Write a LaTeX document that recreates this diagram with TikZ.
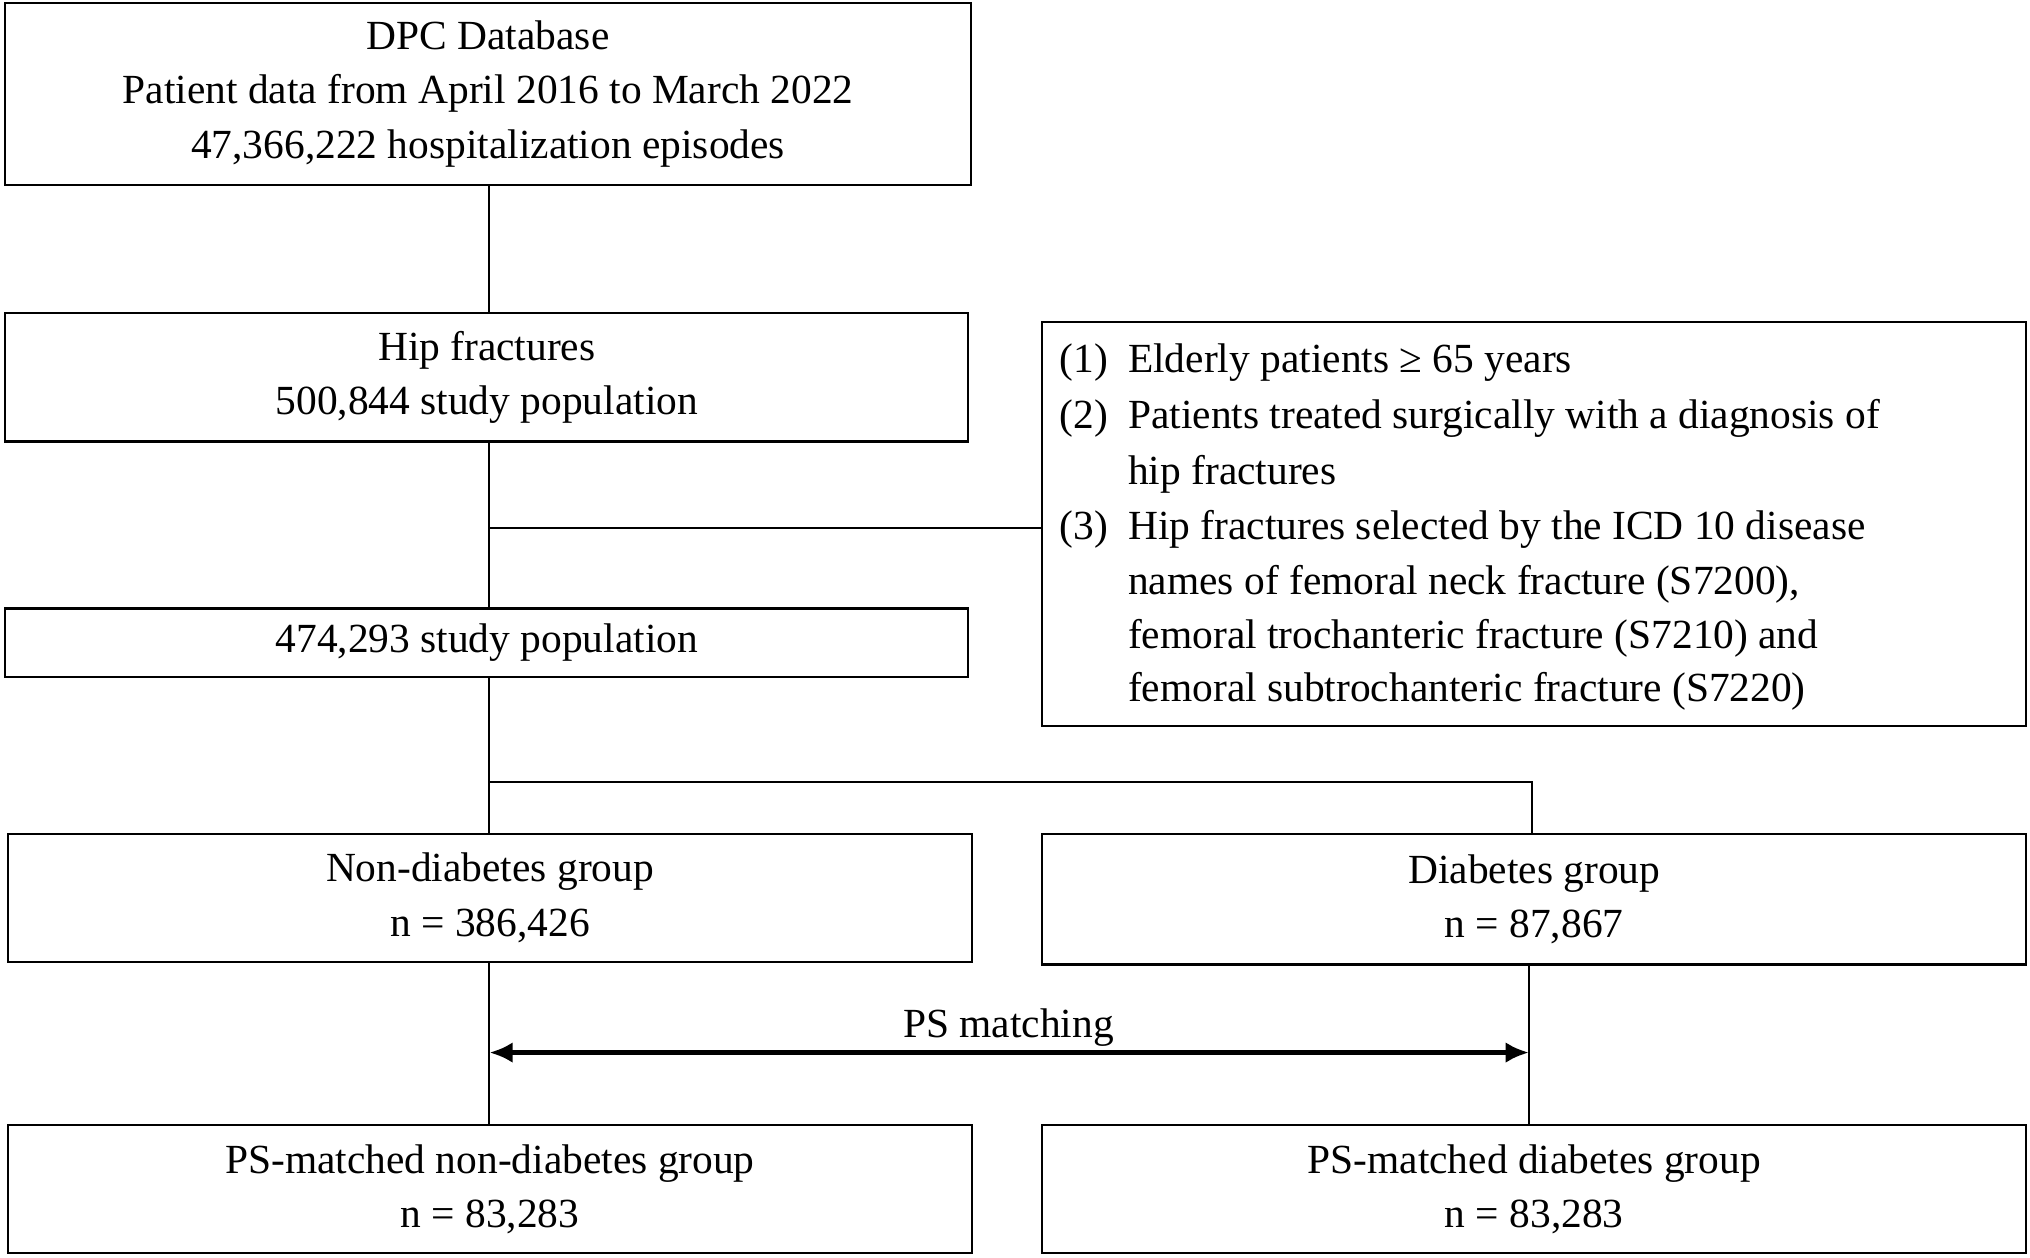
\documentclass[tikz,border=0pt]{standalone}
\usepackage{fontspec}
\setmainfont{Liberation Serif}
\usetikzlibrary{arrows.meta}
\begin{document}
\begin{tikzpicture}[x=0.5pt,y=-0.5pt,
  box/.style={draw,line width=0.8pt,inner sep=0pt,align=center,font=\fontsize{16}{21}\selectfont},
  ln/.style={line width=0.8pt},
  txt/.style={inner sep=0pt,font=\fontsize{16}{21}\selectfont,anchor=base west}]
\useasboundingbox (0,0) rectangle (1568,971);
\node[box,minimum width=746*0.5pt,minimum height=141*0.5pt] (b1) at (377,72.5) {DPC Database\\Patient data from April 2016 to March 2022\\47,366,222 hospitalization episodes};
\node[box,minimum width=744*0.5pt,minimum height=99*0.5pt] (b2) at (376,291.5) {Hip fractures\\500,844 study population};
\node[box,minimum width=744*0.5pt,minimum height=53*0.5pt] (b3) at (376,496.5) {474,293 study population};
\node[box,minimum width=760*0.5pt,minimum height=312*0.5pt] (ex) at (1185,405) {};
\node[box,minimum width=745*0.5pt,minimum height=99*0.5pt] (b4) at (378.5,693.5) {Non-diabetes group\\n = 386,426};
\node[box,minimum width=760*0.5pt,minimum height=101*0.5pt] (b5) at (1185,694.5) {Diabetes group\\n = 87,867};
\node[box,minimum width=745*0.5pt,minimum height=99*0.5pt] (b6) at (378.5,918.5) {PS-matched non-diabetes group\\n = 83,283};
\node[box,minimum width=760*0.5pt,minimum height=99*0.5pt] (b7) at (1185,918.5) {PS-matched diabetes group\\n = 83,283};
% exclusion text
\foreach \y/\n/\t in {288/(1)/{Elderly patients \char"2265\ 65 years},331/(2)/{Patients treated surgically with a diagnosis of},374//{hip fractures},417/(3)/{Hip fractures selected by the ICD 10 disease},459//{names of femoral neck fracture (S7200),},501//{femoral trochanteric fracture (S7210) and},542//{femoral subtrochanteric fracture (S7220)}}{
  \node[txt] at (818,\y) {\n};
  \node[txt] at (871,\y) {\t};
}
\coordinate (x1) at (378,408);
\coordinate (x2) at (378,604);
\coordinate (x3) at (1183,604);
\draw[ln] (b1.south -| x1) -- (b2.north -| x1);
\draw[ln] (b2.south -| x1) -- (b3.north -| x1);
\draw[ln] (x1) -- (ex.west |- x1);
\draw[ln] (b3.south -| x1) -- (b4.north -| x1);
\draw[ln] (x2) -- (x3) -- (b5.north -| x3);
\coordinate (l) at (378,813);
\coordinate (r) at (1181,813);
\draw[ln] (b4.south -| l) -- (b6.north -| l);
\draw[ln] (b5.south -| r) -- (b7.north -| r);
\draw[line width=2pt,{Latex[length=9pt,width=8pt]}-{Latex[length=9pt,width=8pt]}] (l) -- (r);
\node[inner sep=0pt,font=\fontsize{16}{21}\selectfont,anchor=base] (ps) at (779,801) {PS matching};
\end{tikzpicture}
\end{document}
